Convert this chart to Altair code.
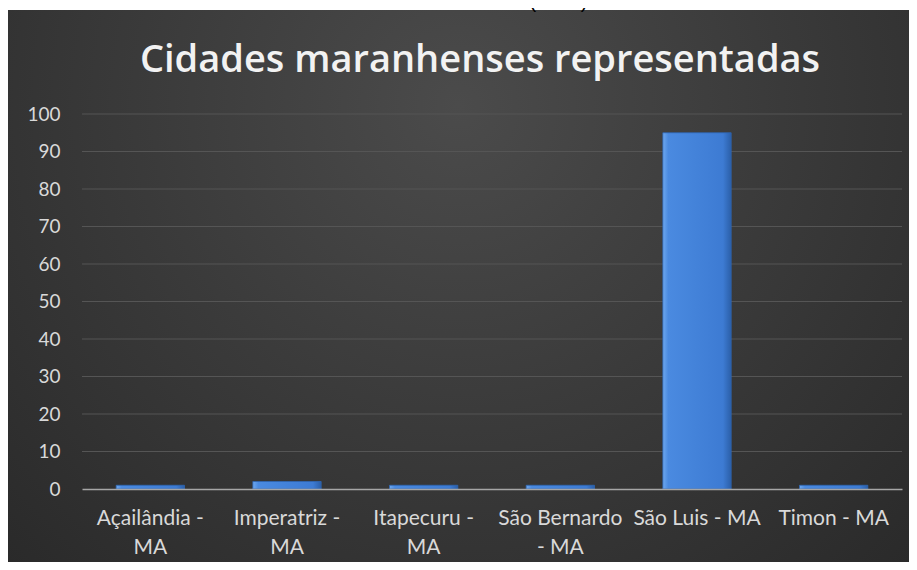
import json
import altair as alt
import pandas as pd

# ---- data ----
categories = ["Açailândia - MA", "Imperatriz - MA", "Itapecuru - MA",
              "São Bernardo - MA", "São Luis - MA", "Timon - MA"]
wrapped = ["Açailândia -|MA", "Imperatriz -|MA", "Itapecuru -|MA",
           "São Bernardo|- MA", "São Luis - MA", "Timon - MA"]
values = [1, 2, 1, 1, 95, 1]
grid_values = [10, 20, 30, 40, 50, 60, 70, 80, 90, 100]
y_ticks = [0, 10, 20, 30, 40, 50, 60, 70, 80, 90, 100]
title_text = "Cidades maranhenses representadas"
caption_text = "Teatro Arthur Azevedo (2018)."

df = pd.DataFrame({"cidade": categories, "n": values})
grid_df = pd.DataFrame({"v": grid_values})
one = pd.DataFrame({"k": [0]})

PW, PH = 820, 375
PAD = {"left": 74, "top": 106, "right": 7, "bottom": 73}

label_expr = "split({w}[indexof({c}, datum.label)], '|')".format(
    w=json.dumps(wrapped, ensure_ascii=False), c=json.dumps(categories, ensure_ascii=False))

x_enc = alt.X("cidade:N", sort=categories,
              scale=alt.Scale(paddingInner=0.5, paddingOuter=0.25),
              axis=alt.Axis(title=None, labelAngle=0, ticks=False, grid=False,
                            domainColor="#a6a6a6", domainWidth=1.5,
                            labelColor="#d9d9d9", labelFont="Lato", labelFontSize=21,
                            labelPadding=18, labelLineHeight=29, labelExpr=label_expr,
                            zindex=1))
y_scale = alt.Scale(domain=[0, 100], nice=False)
y_axis = alt.Axis(title=None, values=y_ticks, domain=False, ticks=False, grid=False,
                  labelColor="#d9d9d9", labelFont="Lato", labelFontSize=19,
                  labelPadding=22, zindex=1)

bg = alt.Chart(one).mark_rect(
    fill=alt.Gradient(gradient="radial",
                      stops=[alt.GradientStop(color="#4b4b4b", offset=0),
                             alt.GradientStop(color="#3a3a3a", offset=0.45),
                             alt.GradientStop(color="#262626", offset=1)],
                      x1=0.5, y1=0.3, r1=0, x2=0.5, y2=0.3, r2=0.8)
).encode(x=alt.value(-PAD["left"]), x2=alt.value(PW + PAD["right"]),
         y=alt.value(-PAD["top"] + 2), y2=alt.value(PH + PAD["bottom"]))

caption = alt.Chart(one).mark_text(
    text=caption_text, font="Liberation Sans", fontSize=20, color="#000000",
    align="center", baseline="bottom"
).encode(x=alt.value(PW / 2 - 32), y=alt.value(-PAD["top"] + 4))

title = alt.Chart(one).mark_text(
    text=title_text, font="Open Sans", fontSize=38, fontWeight=600, color="#f2f2f2",
    align="center", baseline="alphabetic"
).encode(x=alt.value(398), y=alt.value(-42))

grid = alt.Chart(grid_df).mark_rule(color="#555555", strokeWidth=1).encode(
    y=alt.Y("v:Q", scale=y_scale, axis=y_axis))

bars = alt.Chart(df).mark_bar(
    fill=alt.Gradient(gradient="linear",
                      stops=[alt.GradientStop(color="#6ea8ee", offset=0),
                             alt.GradientStop(color="#4a8ae0", offset=0.08),
                             alt.GradientStop(color="#3d7bd3", offset=0.88),
                             alt.GradientStop(color="#2b5fa8", offset=1)],
                      x1=0, y1=0, x2=1, y2=0),
    stroke="#2f66b3", strokeWidth=0.8
).encode(
    x=x_enc,
    y=alt.Y("n:Q", scale=y_scale, axis=y_axis),
)

chart = alt.layer(bg, caption, title, grid, bars).properties(
    width=PW, height=PH,
    padding=PAD, autosize="none",
    background="#ffffff",
).configure_view(stroke=None)

chart.save("out.html", embed_options={"renderer": "svg", "actions": False})
